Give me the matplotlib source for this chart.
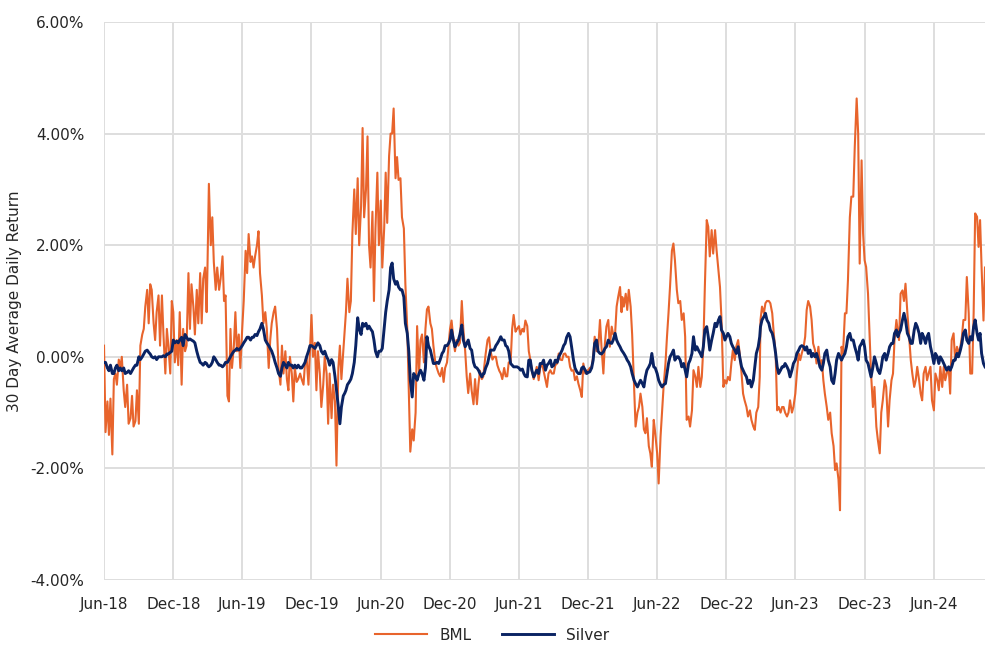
import matplotlib
matplotlib.use("Agg")
import matplotlib.pyplot as plt
import matplotlib.dates as mdates
from matplotlib.ticker import FuncFormatter
import numpy as np
import pandas as pd

# 30 day average daily return (%), seven readings per month
bml_2018 = [  # Jun..Dec
    0.2, -1.35, -0.8, -1.4, -0.75, -1.75, -0.4,
    -0.3, -0.5, -0.05, -0.2, 0.0, -0.6, -0.9,
    -0.5, -1.2, -1.1, -0.7, -1.25, -1.15, -0.6,
    -1.2, 0.2, 0.4, 0.5, 0.9, 1.2, 0.6,
    1.3, 1.2, 0.6, 0.3, 0.8, 1.1, 0.2,
    1.1, 0.4, -0.3, 0.5, 0.2, -0.3, 1.0,
    0.8, -0.1, 0.3, -0.15, 0.8, -0.5, 0.5,
]
bml_2019 = [
    0.1, 0.2, 1.5, 0.5, 1.3, 0.9, 0.4,
    1.2, 0.6, 1.5, 0.6, 1.4, 1.6, 0.8,
    1.5, 3.1, 2.0, 2.5, 1.7, 1.2, 1.6,
    1.2, 1.4, 1.8, 1.0, 1.1, -0.7, -0.8,
    0.5, -0.2, 0.2, 0.8, 0.1, 0.4, -0.2,
    0.5, 1.0, 1.9, 1.5, 2.2, 1.7, 1.8,
    1.6, 1.8, 2.0, 2.25, 1.5, 1.1, 0.6,
    0.8, 0.5, -0.2, 0.3, 0.6, 0.8, 0.9,
    0.5, -0.2, -0.5, 0.2, -0.3, 0.1, -0.4,
    -0.6, 0.0, -0.3, -0.8, -0.2, -0.45, -0.4,
    -0.3, -0.4, -0.5, -0.1, 0.0, -0.5, 0.1,
    0.75, 0.0, 0.25, -0.6, 0.1, -0.3, -0.9,
]
bml_2020 = [
    -0.5, 0.0, -0.3, -1.2, -0.3, -1.1, -0.5,
    -0.8, -1.95, -0.2, 0.2, -0.4, 0.1, 0.5,
    0.8, 1.4, 0.8, 1.0, 2.2, 3.0, 2.2,
    3.2, 2.0, 2.7, 4.1, 2.5, 3.0, 3.95,
    2.0, 1.6, 2.6, 1.0, 2.3, 3.3, 2.0,
    2.8, 1.6, 2.3, 3.3, 2.4, 3.6, 4.0,
    4.0, 4.45, 3.2, 3.58, 3.17, 3.2, 2.5,
    2.3, 1.3, 0.5, -0.6, -1.7, -1.3, -1.5,
    -1.0, 0.55, -0.3, 0.3, 0.4, -0.1, 0.5,
    0.85, 0.9, 0.6, 0.5, 0.2, -0.1, -0.2,
    -0.3, -0.35, -0.2, -0.45, -0.2, -0.1, 0.2,
    0.5, 0.65, 0.3, 0.1, 0.3, 0.2, 0.25,
]
bml_2021 = [
    1.0, 0.5, 0.1, -0.35, -0.65, -0.3, -0.6,
    -0.85, -0.4, -0.85, -0.5, -0.25, -0.4, -0.35,
    -0.2, 0.05, 0.3, 0.35, 0.1, -0.05, 0.0,
    0.0, -0.15, -0.25, -0.3, -0.4, -0.2, -0.35,
    -0.35, -0.1, -0.1, 0.5, 0.75, 0.45, 0.5,
    0.55, 0.4, 0.5, 0.45, 0.65, 0.55, 0.1,
    -0.05, -0.25, -0.4, -0.3, -0.18, -0.42, -0.2,
    -0.12, -0.25, -0.42, -0.54, -0.3, -0.24, -0.3,
    -0.3, -0.15, -0.12, 0.06, -0.05, -0.06, 0.05,
    0.06, 0.0, 0.0, -0.18, -0.25, -0.24, -0.42,
    -0.35, -0.48, -0.6, -0.72, -0.12, -0.3, -0.25,
    -0.24, -0.2, -0.18, 0.0, 0.36, 0.1, 0.12,
]
bml_2022 = [
    0.66, 0.18, -0.3, 0.24, 0.54, 0.66, 0.18,
    0.54, 0.4, 0.42, 0.9, 1.07, 1.25, 0.8,
    1.07, 0.9, 1.13, 0.84, 1.2, 0.9, 0.4,
    -0.54, -1.25, -1.0, -0.9, -0.66, -0.9, -1.3,
    -1.37, -1.1, -1.6, -1.73, -1.97, -1.13, -1.37,
    -1.73, -2.27, -1.43, -1.0, -0.54, -0.12, 0.36,
    0.78, 1.25, 1.9, 2.03, 1.73, 1.2, 0.96,
    1.0, 0.66, 0.78, 0.36, -1.13, -1.07, -1.25,
    -0.96, -0.24, -0.36, -0.54, -0.18, -0.54, -0.36,
    0.18, 1.25, 2.45, 2.33, 1.8, 2.27, 1.85,
    2.27, 1.91, 1.55, 1.25, 0.66, -0.54, -0.42,
    -0.48, -0.36, -0.42, -0.12, 0.12, -0.06, 0.18,
]
bml_2023 = [
    0.3, 0.06, -0.3, -0.66, -0.78, -0.9, -1.07,
    -0.96, -1.13, -1.25, -1.31, -1.0, -0.9, -0.36,
    0.66, 0.9, 0.78, 0.96, 1.0, 1.0, 0.96,
    0.78, 0.42, 0.06, -0.96, -0.9, -1.0, -0.9,
    -0.9, -1.0, -1.07, -1.0, -0.78, -1.0, -0.9,
    -0.66, -0.3, 0.06, -0.06, 0.06, 0.18, 0.36,
    0.84, 1.0, 0.9, 0.66, 0.24, 0.12, -0.12,
    0.18, -0.12, -0.06, -0.42, -0.66, -0.9, -1.13,
    -1.0, -1.37, -1.6, -2.03, -1.91, -2.2, -2.75,
    0.18, 0.06, 0.78, 0.78, 1.37, 2.5, 2.87,
    2.87, 3.76, 4.63, 4.0, 1.67, 3.52, 2.21,
    1.73, 1.61, 1.13, 0.42, -0.3, -0.9, -0.54,
]
bml_2024 = [  # Jan..mid Oct
    -1.25, -1.49, -1.73, -1.0, -0.78, -0.42, -0.54,
    -1.25, -0.78, -0.42, -0.3, 0.3, 0.66, 0.42,
    0.3, 1.13, 1.19, 1.0, 1.31, 0.78, 0.42,
    -0.06, -0.3, -0.54, -0.42, -0.18, -0.42, -0.66,
    -0.78, -0.3, -0.18, -0.42, -0.3, -0.18, -0.78,
    -0.96, -0.3, -0.42, -0.6, -0.18, -0.54, -0.18,
    -0.42, -0.3, -0.18, -0.66, 0.3, 0.42, -0.06,
    0.18, 0.06, 0.18, 0.36, 0.66, 0.66, 1.43,
    0.78, -0.3, -0.3, 0.78, 2.57, 2.51, 1.97,
    2.45, 1.6, 0.65, 1.6,
]

silver_2018 = [  # Jun..Dec
    -0.1, -0.1, -0.2, -0.25, -0.15, -0.3, -0.3,
    -0.2, -0.15, -0.25, -0.2, -0.25, -0.2, -0.3,
    -0.28, -0.25, -0.3, -0.25, -0.2, -0.15, -0.15,
    0.0, -0.05, 0.0, 0.05, 0.1, 0.12, 0.08,
    0.05, 0.0, -0.02, 0.0, -0.05, 0.0, 0.0,
    0.0, 0.02, 0.0, 0.05, 0.05, 0.08, 0.1,
    0.3, 0.25, 0.28, 0.25, 0.3, 0.35, 0.2,
]
silver_2019 = [
    0.4, 0.35, 0.3, 0.32, 0.3, 0.28, 0.25,
    0.1, 0.0, -0.1, -0.12, -0.15, -0.1, -0.12,
    -0.15, -0.18, -0.15, -0.1, 0.0, -0.05, -0.1,
    -0.15, -0.15, -0.18, -0.15, -0.1, -0.1, -0.05,
    0.0, 0.05, 0.1, 0.12, 0.15, 0.12, 0.15,
    0.2, 0.25, 0.3, 0.35, 0.35, 0.3, 0.35,
    0.35, 0.4, 0.38, 0.45, 0.5, 0.6, 0.5,
    0.3, 0.25, 0.2, 0.15, 0.1, 0.0, -0.1,
    -0.2, -0.3, -0.35, -0.2, -0.1, -0.15, -0.2,
    -0.1, -0.15, -0.15, -0.2, -0.15, -0.2, -0.15,
    -0.2, -0.2, -0.15, -0.1, 0.0, 0.1, 0.2,
    0.2, 0.18, 0.15, 0.2, 0.25, 0.2, 0.1,
]
silver_2020 = [
    0.05, 0.1, 0.0, -0.05, -0.15, -0.05, -0.1,
    -0.35, -0.6, -0.9, -1.2, -0.9, -0.7, -0.65,
    -0.6, -0.5, -0.45, -0.4, -0.3, -0.1, 0.2,
    0.7, 0.5, 0.4, 0.6, 0.55, 0.6, 0.5,
    0.55, 0.5, 0.45, 0.3, 0.1, 0.0, 0.1,
    0.1, 0.15, 0.5, 0.8, 1.0, 1.2, 1.6,
    1.68, 1.4, 1.3, 1.35, 1.25, 1.2, 1.2,
    1.07, 0.6, 0.42, 0.1, -0.42, -0.72, -0.3,
    -0.35, -0.42, -0.3, -0.24, -0.3, -0.42, -0.2,
    0.36, 0.2, 0.12, 0.0, -0.12, -0.12, -0.1,
    -0.12, -0.05, 0.06, 0.1, 0.2, 0.2, 0.24,
    0.3, 0.48, 0.3, 0.18, 0.24, 0.3, 0.4,
]
silver_2021 = [
    0.57, 0.3, 0.18, 0.24, 0.3, 0.15, 0.12,
    -0.1, -0.18, -0.2, -0.24, -0.3, -0.36, -0.3,
    -0.3, -0.2, -0.12, 0.0, 0.12, 0.12, 0.12,
    0.2, 0.24, 0.3, 0.36, 0.3, 0.3, 0.2,
    0.18, 0.1, -0.12, -0.15, -0.18, -0.18, -0.18,
    -0.2, -0.24, -0.22, -0.3, -0.35, -0.36, -0.06,
    -0.06, -0.24, -0.36, -0.3, -0.24, -0.3, -0.12,
    -0.12, -0.06, -0.24, -0.15, -0.12, -0.06, -0.18,
    -0.15, -0.06, -0.1, 0.0, 0.05, 0.12, 0.2,
    0.24, 0.35, 0.42, 0.36, 0.18, -0.06, -0.2,
    -0.27, -0.3, -0.3, -0.2, -0.18, -0.24, -0.3,
    -0.28, -0.27, -0.2, -0.06, 0.24, 0.3, 0.1,
]
silver_2022 = [
    0.06, 0.05, 0.09, 0.15, 0.18, 0.3, 0.25,
    0.24, 0.3, 0.42, 0.3, 0.24, 0.18, 0.12,
    0.1, 0.06, 0.0, -0.06, -0.1, -0.18, -0.3,
    -0.42, -0.48, -0.54, -0.48, -0.42, -0.48, -0.54,
    -0.36, -0.24, -0.18, -0.12, 0.06, -0.18, -0.2,
    -0.3, -0.42, -0.5, -0.54, -0.5, -0.48, -0.3,
    -0.12, 0.0, 0.06, 0.12, -0.06, 0.0, 0.0,
    -0.06, -0.18, -0.12, -0.24, -0.36, -0.12, -0.06,
    0.06, 0.36, 0.12, 0.18, 0.12, 0.06, 0.0,
    0.18, 0.48, 0.54, 0.36, 0.12, 0.3, 0.42,
    0.6, 0.54, 0.66, 0.72, 0.48, 0.42, 0.3,
    0.36, 0.42, 0.36, 0.24, 0.18, 0.12, 0.06,
]
silver_2023 = [
    0.18, 0.0, -0.18, -0.24, -0.3, -0.36, -0.48,
    -0.42, -0.54, -0.42, -0.18, 0.06, 0.18, 0.36,
    0.54, 0.66, 0.72, 0.78, 0.66, 0.6, 0.48,
    0.42, 0.3, 0.06, -0.18, -0.3, -0.24, -0.18,
    -0.18, -0.12, -0.18, -0.24, -0.36, -0.24, -0.12,
    -0.06, 0.06, 0.12, 0.18, 0.2, 0.18, 0.12,
    0.18, 0.06, 0.12, 0.0, 0.06, 0.0, 0.06,
    -0.06, -0.18, -0.24, -0.12, 0.06, 0.12, -0.06,
    -0.18, -0.42, -0.48, -0.3, -0.06, 0.06, 0.0,
    -0.06, 0.0, 0.06, 0.18, 0.36, 0.42, 0.3,
    0.3, 0.18, 0.06, -0.06, 0.18, 0.24, 0.3,
    0.18, -0.06, -0.12, -0.24, -0.36, -0.18, 0.0,
]
silver_2024 = [  # Jan..mid Oct
    -0.12, -0.24, -0.3, -0.18, 0.0, 0.06, -0.06,
    0.06, 0.18, 0.24, 0.24, 0.42, 0.48, 0.36,
    0.42, 0.48, 0.66, 0.78, 0.66, 0.42, 0.36,
    0.24, 0.24, 0.48, 0.6, 0.54, 0.42, 0.24,
    0.42, 0.36, 0.24, 0.36, 0.42, 0.18, 0.06,
    -0.12, 0.06, 0.0, -0.12, 0.0, -0.06, -0.12,
    -0.18, -0.24, -0.18, -0.24, -0.18, -0.06, -0.06,
    0.06, 0.0, 0.12, 0.24, 0.42, 0.48, 0.3,
    0.24, 0.36, 0.3, 0.54, 0.66, 0.42, 0.3,
    0.42, 0.06, -0.12, -0.18,
]

bml = bml_2018 + bml_2019 + bml_2020 + bml_2021 + bml_2022 + bml_2023 + bml_2024
silver = (silver_2018 + silver_2019 + silver_2020 + silver_2021 + silver_2022
          + silver_2023 + silver_2024)

# reading days within each month
month_starts = pd.date_range("2018-06-01", "2024-10-01", freq="MS")
day_offsets = [0, 4, 9, 13, 17, 22, 26]
dates = [m + pd.Timedelta(days=d) for m in month_starts for d in day_offsets]
dates_bml = dates[:len(bml)]
dates_silver = dates[:len(silver)]

orange = "#E8642C"
navy = "#0A2363"
text_col = "#262626"

plt.rcParams["font.family"] = "DejaVu Sans"

fig = plt.figure(figsize=(9.85, 6.53), dpi=100)
ax = fig.add_axes([0.1056, 0.1118, 0.8944, 0.8545])

ax.plot(dates_bml, np.array(bml) / 100, color=orange, linewidth=1.5, label="BML")
ax.plot(dates_silver, np.array(silver) / 100, color=navy, linewidth=2.1, label="Silver")

ax.set_ylim(-0.04, 0.06)
ax.set_yticks(np.arange(-0.04, 0.0601, 0.02))
ax.yaxis.set_major_formatter(FuncFormatter(lambda v, p: f"{v * 100:.2f}%"))

ax.set_xlim(pd.Timestamp("2018-06-01"), pd.Timestamp("2024-10-14"))
ax.xaxis.set_major_locator(mdates.MonthLocator(bymonth=[6, 12], bymonthday=1))
ax.xaxis.set_major_formatter(mdates.DateFormatter("%b-%y"))

ax.grid(True, color="#dedede", linewidth=1.4)
ax.set_axisbelow(True)
for s in ax.spines.values():
    s.set_visible(False)
ax.tick_params(length=0, labelsize=11, colors=text_col)
ax.tick_params(axis="x", pad=12)
ax.tick_params(axis="y", pad=14)

ax.set_ylabel("30 Day Average Daily Return", fontsize=11, color=text_col, labelpad=6)

fig.legend(loc="lower center", bbox_to_anchor=(0.5, -0.005), ncol=2, frameon=False,
           fontsize=11, handlelength=3.4, columnspacing=2.0, labelcolor=text_col)

fig.savefig("out.png", dpi=100)
